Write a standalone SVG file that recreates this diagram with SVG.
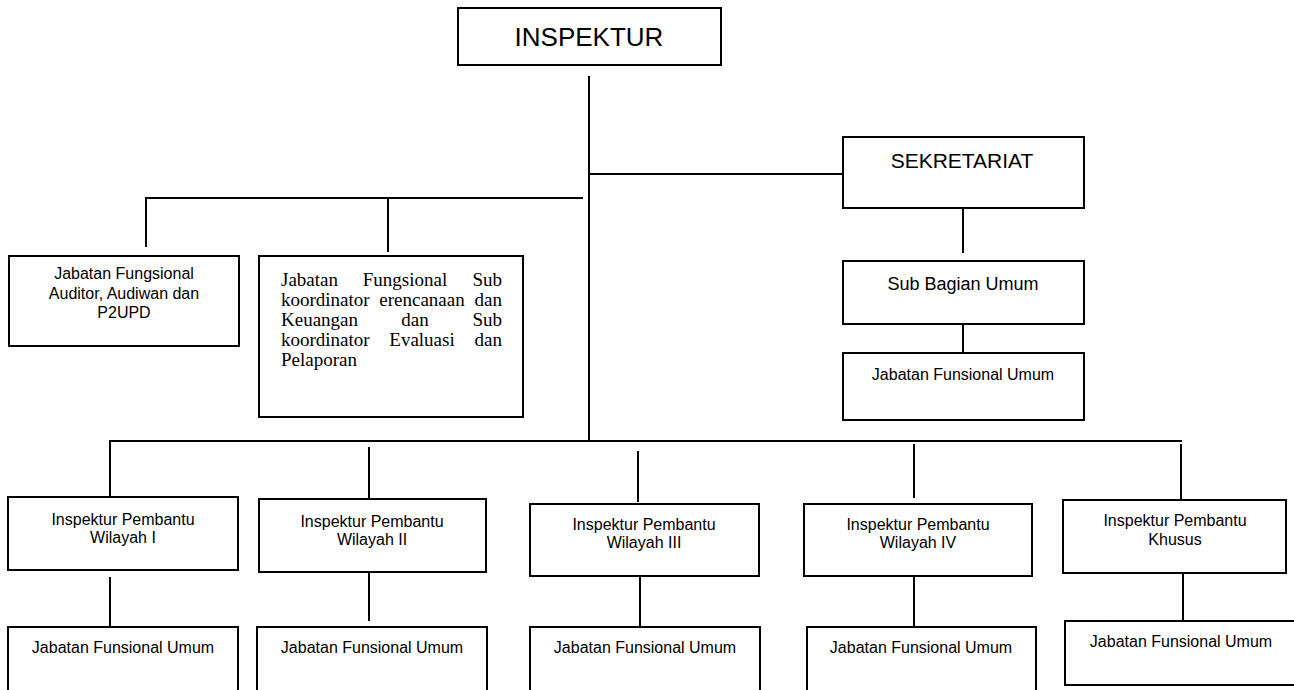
<svg xmlns="http://www.w3.org/2000/svg" width="1294" height="690" viewBox="0 0 1294 690">
<style>
rect{fill:#fff;stroke:#000;stroke-width:2}
.c line{stroke:#000;stroke-width:2}
text{font-family:"Liberation Sans",Arial,sans-serif;fill:#000;text-anchor:middle}
.s16{font-size:16px}
.tm text{font-family:"Liberation Serif","Times New Roman",serif;font-size:19px}
.tm text.st{text-anchor:start}
.tm text.en{text-anchor:end}
</style>
<rect width="1294" height="690" style="fill:#fff;stroke:none"/>
<g class="c" id="connectors">
<line x1="589" y1="76" x2="589" y2="442"/>
<line x1="589" y1="174" x2="843" y2="174"/>
<line x1="146" y1="198" x2="583" y2="198"/>
<line x1="146" y1="197" x2="146" y2="247"/>
<line x1="388" y1="198" x2="388" y2="252"/>
<line x1="963" y1="208" x2="963" y2="253"/>
<line x1="963" y1="323" x2="963" y2="353"/>
<line x1="110" y1="441" x2="1182" y2="441"/>
<line x1="110" y1="440" x2="110" y2="497"/>
<line x1="369" y1="447" x2="369" y2="499"/>
<line x1="638" y1="451" x2="638" y2="502"/>
<line x1="914" y1="444" x2="914" y2="498"/>
<line x1="1181" y1="444" x2="1181" y2="499"/>
<line x1="110" y1="577" x2="110" y2="627"/>
<line x1="369" y1="572" x2="369" y2="621"/>
<line x1="640" y1="576" x2="640" y2="627"/>
<line x1="914" y1="576" x2="914" y2="627"/>
<line x1="1183" y1="572" x2="1183" y2="621"/>
</g>
<g id="inspektur"><rect x="458" y="8" width="263" height="57"/><text x="589" y="46" style="font-size:26px">INSPEKTUR</text></g>
<g id="sekretariat"><rect x="843" y="137" width="241" height="71"/><text x="962" y="168" style="font-size:21px">SEKRETARIAT</text></g>
<g id="subbagian"><rect x="843" y="261" width="241" height="63"/><text x="963" y="290" style="font-size:18px">Sub Bagian Umum</text></g>
<g id="jfu-sek"><rect x="843" y="353" width="241" height="67"/><text x="963" y="380" class="s16">Jabatan Funsional Umum</text></g>
<g id="jf-auditor"><rect x="9" y="256" width="230" height="90"/>
<text x="124" y="279" class="s16">Jabatan Fungsional</text>
<text x="124" y="299" class="s16">Auditor, Audiwan dan</text>
<text x="124" y="318" class="s16">P2UPD</text></g>
<g id="jf-sub"><rect x="259" y="256" width="264" height="161"/>
<g class="tm">
<text x="281" y="286" class="st">Jabatan</text><text x="405" y="286">Fungsional</text><text x="502" y="286" class="en">Sub</text>
<text x="281" y="306" class="st">koordinator</text><text x="422" y="306">erencanaan</text><text x="502" y="306" class="en">dan</text>
<text x="281" y="326" class="st">Keuangan</text><text x="415" y="326">dan</text><text x="502" y="326" class="en">Sub</text>
<text x="281" y="346" class="st">koordinator</text><text x="422" y="346">Evaluasi</text><text x="502" y="346" class="en">dan</text>
<text x="281" y="366" class="st">Pelaporan</text>
</g></g>
<g id="ipw1"><rect x="8" y="497" width="230" height="73"/><text x="123" y="525" class="s16">Inspektur Pembantu</text><text x="123" y="543" class="s16">Wilayah I</text></g>
<g id="ipw2"><rect x="259" y="499" width="227" height="73"/><text x="372" y="527" class="s16">Inspektur Pembantu</text><text x="372" y="545" class="s16">Wilayah II</text></g>
<g id="ipw3"><rect x="530" y="504" width="229" height="72"/><text x="644" y="530" class="s16">Inspektur Pembantu</text><text x="644" y="548" class="s16">Wilayah III</text></g>
<g id="ipw4"><rect x="804" y="504" width="228" height="72"/><text x="918" y="530" class="s16">Inspektur Pembantu</text><text x="918" y="548" class="s16">Wilayah IV</text></g>
<g id="ipk"><rect x="1063" y="500" width="223" height="73"/><text x="1175" y="526" class="s16">Inspektur Pembantu</text><text x="1175" y="545" class="s16">Khusus</text></g>
<g id="jfu1"><rect x="8" y="627" width="230" height="70"/><text x="123" y="653" class="s16">Jabatan Funsional Umum</text></g>
<g id="jfu2"><rect x="257" y="627" width="230" height="70"/><text x="372" y="653" class="s16">Jabatan Funsional Umum</text></g>
<g id="jfu3"><rect x="530" y="627" width="230" height="70"/><text x="645" y="653" class="s16">Jabatan Funsional Umum</text></g>
<g id="jfu4"><rect x="807" y="627" width="229" height="70"/><text x="921" y="653" class="s16">Jabatan Funsional Umum</text></g>
<g id="jfu5"><rect x="1065" y="621" width="232" height="64"/><text x="1181" y="647" class="s16">Jabatan Funsional Umum</text></g>
</svg>
